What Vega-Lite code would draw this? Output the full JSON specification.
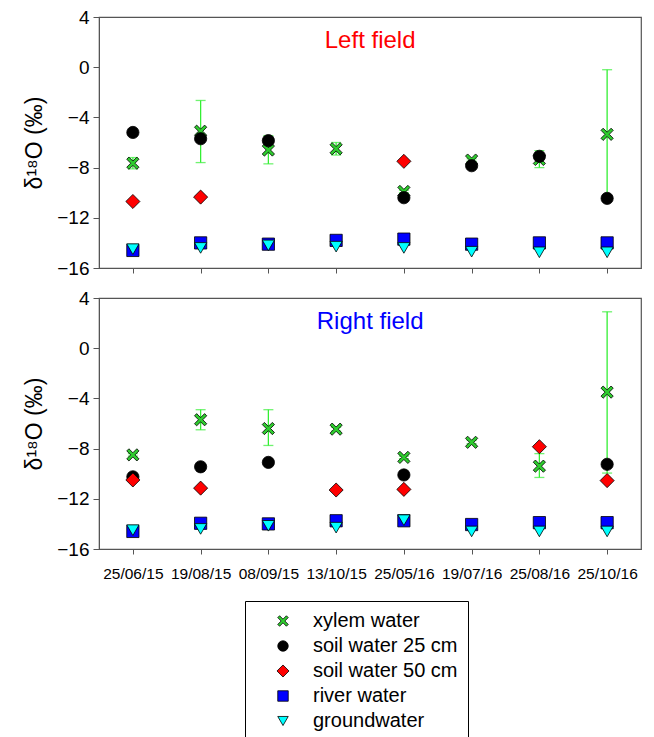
{
  "$schema": "https://vega.github.io/schema/vega-lite/v6.json",
  "padding": {"left": 23, "top": 7, "right": 5, "bottom": 5},
  "background": "white",
  "config": {
    "font": "Liberation Sans",
    "view": {"stroke": "#555", "strokeWidth": 1.2},
    "axis": {"domainColor": "#555", "tickColor": "#555", "labelColor": "black", "titleColor": "black", "grid": false, "labelFont": "Liberation Sans", "titleFont": "Liberation Sans", "titleFontWeight": "normal"}
  },
  "datasets": {
    "pts": [
      {"field": "Left field", "date": "25/06/15", "series": "xylem water", "value": -7.65, "lo": -8.1, "hi": -7.2},
      {"field": "Left field", "date": "19/08/15", "series": "xylem water", "value": -5.1, "lo": -7.6, "hi": -2.65},
      {"field": "Left field", "date": "08/09/15", "series": "xylem water", "value": -6.6, "lo": -7.7, "hi": -5.45},
      {"field": "Left field", "date": "13/10/15", "series": "xylem water", "value": -6.5, "lo": -7.0, "hi": -6.0},
      {"field": "Left field", "date": "25/05/16", "series": "xylem water", "value": -9.9, "lo": -10.0, "hi": -9.8},
      {"field": "Left field", "date": "19/07/16", "series": "xylem water", "value": -7.4, "lo": -7.5, "hi": -7.3},
      {"field": "Left field", "date": "25/08/16", "series": "xylem water", "value": -7.35, "lo": -8.0, "hi": -6.65},
      {"field": "Left field", "date": "25/10/16", "series": "xylem water", "value": -5.35, "lo": -10.5, "hi": -0.2},
      {"field": "Left field", "date": "25/06/15", "series": "soil water 25 cm", "value": -5.2},
      {"field": "Left field", "date": "19/08/15", "series": "soil water 25 cm", "value": -5.7},
      {"field": "Left field", "date": "08/09/15", "series": "soil water 25 cm", "value": -5.85},
      {"field": "Left field", "date": "25/05/16", "series": "soil water 25 cm", "value": -10.4},
      {"field": "Left field", "date": "19/07/16", "series": "soil water 25 cm", "value": -7.85},
      {"field": "Left field", "date": "25/08/16", "series": "soil water 25 cm", "value": -7.1},
      {"field": "Left field", "date": "25/10/16", "series": "soil water 25 cm", "value": -10.45},
      {"field": "Left field", "date": "25/06/15", "series": "soil water 50 cm", "value": -10.7},
      {"field": "Left field", "date": "19/08/15", "series": "soil water 50 cm", "value": -10.35},
      {"field": "Left field", "date": "25/05/16", "series": "soil water 50 cm", "value": -7.5},
      {"field": "Left field", "date": "25/06/15", "series": "river water", "value": -14.6},
      {"field": "Left field", "date": "19/08/15", "series": "river water", "value": -14.0},
      {"field": "Left field", "date": "08/09/15", "series": "river water", "value": -14.1},
      {"field": "Left field", "date": "13/10/15", "series": "river water", "value": -13.8},
      {"field": "Left field", "date": "25/05/16", "series": "river water", "value": -13.7},
      {"field": "Left field", "date": "19/07/16", "series": "river water", "value": -14.1},
      {"field": "Left field", "date": "25/08/16", "series": "river water", "value": -14.0},
      {"field": "Left field", "date": "25/10/16", "series": "river water", "value": -14.0},
      {"field": "Left field", "date": "25/06/15", "series": "groundwater", "value": -14.5},
      {"field": "Left field", "date": "19/08/15", "series": "groundwater", "value": -14.4},
      {"field": "Left field", "date": "08/09/15", "series": "groundwater", "value": -14.2},
      {"field": "Left field", "date": "13/10/15", "series": "groundwater", "value": -14.3},
      {"field": "Left field", "date": "25/05/16", "series": "groundwater", "value": -14.4},
      {"field": "Left field", "date": "19/07/16", "series": "groundwater", "value": -14.7},
      {"field": "Left field", "date": "25/08/16", "series": "groundwater", "value": -14.75},
      {"field": "Left field", "date": "25/10/16", "series": "groundwater", "value": -14.75},
      {"field": "Right field", "date": "25/06/15", "series": "xylem water", "value": -8.5, "lo": -8.6, "hi": -8.4},
      {"field": "Right field", "date": "19/08/15", "series": "xylem water", "value": -5.7, "lo": -6.5, "hi": -4.9},
      {"field": "Right field", "date": "08/09/15", "series": "xylem water", "value": -6.4, "lo": -7.75, "hi": -4.9},
      {"field": "Right field", "date": "13/10/15", "series": "xylem water", "value": -6.45, "lo": -6.6, "hi": -6.3},
      {"field": "Right field", "date": "25/05/16", "series": "xylem water", "value": -8.7, "lo": -8.8, "hi": -8.6},
      {"field": "Right field", "date": "19/07/16", "series": "xylem water", "value": -7.5, "lo": -7.6, "hi": -7.35},
      {"field": "Right field", "date": "25/08/16", "series": "xylem water", "value": -9.4, "lo": -10.3, "hi": -8.4},
      {"field": "Right field", "date": "25/10/16", "series": "xylem water", "value": -3.5, "lo": -9.95, "hi": 2.9},
      {"field": "Right field", "date": "25/06/15", "series": "soil water 25 cm", "value": -10.25},
      {"field": "Right field", "date": "19/08/15", "series": "soil water 25 cm", "value": -9.45},
      {"field": "Right field", "date": "08/09/15", "series": "soil water 25 cm", "value": -9.1},
      {"field": "Right field", "date": "25/05/16", "series": "soil water 25 cm", "value": -10.1},
      {"field": "Right field", "date": "25/10/16", "series": "soil water 25 cm", "value": -9.25},
      {"field": "Right field", "date": "25/06/15", "series": "soil water 50 cm", "value": -10.5},
      {"field": "Right field", "date": "19/08/15", "series": "soil water 50 cm", "value": -11.15},
      {"field": "Right field", "date": "13/10/15", "series": "soil water 50 cm", "value": -11.3},
      {"field": "Right field", "date": "25/05/16", "series": "soil water 50 cm", "value": -11.25},
      {"field": "Right field", "date": "25/08/16", "series": "soil water 50 cm", "value": -7.85},
      {"field": "Right field", "date": "25/10/16", "series": "soil water 50 cm", "value": -10.55},
      {"field": "Right field", "date": "25/06/15", "series": "river water", "value": -14.6},
      {"field": "Right field", "date": "19/08/15", "series": "river water", "value": -13.95},
      {"field": "Right field", "date": "08/09/15", "series": "river water", "value": -14.0},
      {"field": "Right field", "date": "13/10/15", "series": "river water", "value": -13.75},
      {"field": "Right field", "date": "25/05/16", "series": "river water", "value": -13.75},
      {"field": "Right field", "date": "19/07/16", "series": "river water", "value": -14.05},
      {"field": "Right field", "date": "25/08/16", "series": "river water", "value": -13.9},
      {"field": "Right field", "date": "25/10/16", "series": "river water", "value": -13.9},
      {"field": "Right field", "date": "25/06/15", "series": "groundwater", "value": -14.5},
      {"field": "Right field", "date": "19/08/15", "series": "groundwater", "value": -14.4},
      {"field": "Right field", "date": "08/09/15", "series": "groundwater", "value": -14.15},
      {"field": "Right field", "date": "13/10/15", "series": "groundwater", "value": -14.3},
      {"field": "Right field", "date": "25/05/16", "series": "groundwater", "value": -13.7},
      {"field": "Right field", "date": "19/07/16", "series": "groundwater", "value": -14.6},
      {"field": "Right field", "date": "25/08/16", "series": "groundwater", "value": -14.6},
      {"field": "Right field", "date": "25/10/16", "series": "groundwater", "value": -14.6}
    ]
  },
  "spacing": 9,
  "vconcat": [
    {
      "width": 542,
      "height": 251,
      "data": {"name": "pts"},
      "transform": [{"filter": "datum.field === 'Left field'"}],
      "encoding": {
        "x": {"field": "date", "type": "nominal", "sort": null,
              "scale": {"type": "point", "padding": 0.5, "domain": ["25/06/15", "19/08/15", "08/09/15", "13/10/15", "25/05/16", "19/07/16", "25/08/16", "25/10/16"]},
              "axis": {"labels": false, "title": null, "tickSize": 5, "domain": true}}
      },
      "layer": [
        {
          "transform": [{"filter": "isValid(datum.lo)"}],
          "mark": {"type": "errorbar", "color": "#33ee33", "thickness": 1.3, "ticks": {"size": 10, "color": "#33ee33"}},
          "encoding": {
            "y": {"field": "lo", "type": "quantitative", "scale": {"domain": [-16, 4], "nice": false, "zero": false}, "title": "δ¹⁸O (‰)"},
            "y2": {"field": "hi"}
          }
        },
        {
          "mark": {"type": "point", "filled": true, "size": 150, "stroke": "black", "strokeWidth": 0.8, "opacity": 1},
          "encoding": {
            "y": {"field": "value", "type": "quantitative", "scale": {"domain": [-16, 4], "nice": false, "zero": false},
                  "axis": {"values": [-16, -12, -8, -4, 0, 4], "labelFontSize": 19, "tickSize": 6, "labelPadding": 4, "titleFontSize": 23, "titlePadding": 10, "title": "δ¹⁸O (‰)"}},
            "color": {"field": "series", "type": "nominal", "title": null,
                      "scale": {"domain": ["xylem water", "soil water 25 cm", "soil water 50 cm", "river water", "groundwater"], "range": ["#2ecc2e", "#000000", "#ff0000", "#0000ff", "#00ffff"]}},
            "shape": {"field": "series", "type": "nominal", "title": null,
                      "scale": {"domain": ["xylem water", "soil water 25 cm", "soil water 50 cm", "river water", "groundwater"], "range": ["M-1,-0.65L-0.65,-1L0,-0.35L0.65,-1L1,-0.65L0.35,0L1,0.65L0.65,1L0,0.35L-0.65,1L-1,0.65L-0.35,0Z", "circle", "M0,-1.15L1.15,0L0,1.15L-1.15,0Z", "square", "triangle-down"]}}
          }
        },
        {
          "data": {"values": [{"label": "Left field"}]},
          "mark": {"type": "text", "color": "#ff0000", "fontSize": 24, "dx": 34, "align": "center", "baseline": "alphabetic"},
          "encoding": {
            "x": {"datum": "13/10/15"},
            "y": {"datum": 1.55},
            "text": {"field": "label"}
          }
        }
      ]
    },
    {
      "width": 542,
      "height": 251,
      "data": {"name": "pts"},
      "transform": [{"filter": "datum.field === 'Right field'"}],
      "encoding": {
        "x": {"field": "date", "type": "nominal", "sort": null,
              "scale": {"type": "point", "padding": 0.5, "domain": ["25/06/15", "19/08/15", "08/09/15", "13/10/15", "25/05/16", "19/07/16", "25/08/16", "25/10/16"]},
              "axis": {"labelAngle": 0, "labelFontSize": 15.5, "title": null, "tickSize": 5, "labelPadding": 12}}
      },
      "layer": [
        {
          "transform": [{"filter": "isValid(datum.lo)"}],
          "mark": {"type": "errorbar", "color": "#33ee33", "thickness": 1.3, "ticks": {"size": 10, "color": "#33ee33"}},
          "encoding": {
            "y": {"field": "lo", "type": "quantitative", "scale": {"domain": [-16, 4], "nice": false, "zero": false}, "title": "δ¹⁸O (‰)"},
            "y2": {"field": "hi"}
          }
        },
        {
          "mark": {"type": "point", "filled": true, "size": 150, "stroke": "black", "strokeWidth": 0.8, "opacity": 1},
          "encoding": {
            "y": {"field": "value", "type": "quantitative", "scale": {"domain": [-16, 4], "nice": false, "zero": false},
                  "axis": {"values": [-16, -12, -8, -4, 0, 4], "labelFontSize": 19, "tickSize": 6, "labelPadding": 4, "titleFontSize": 23, "titlePadding": 10, "title": "δ¹⁸O (‰)"}},
            "color": {"field": "series", "type": "nominal", "title": null,
                      "scale": {"domain": ["xylem water", "soil water 25 cm", "soil water 50 cm", "river water", "groundwater"], "range": ["#2ecc2e", "#000000", "#ff0000", "#0000ff", "#00ffff"]},
                      "legend": {"orient": "none", "legendX": 146, "legendY": 584, "direction": "vertical", "labelFontSize": 20, "symbolSize": 110, "rowPadding": 5, "padding": 10, "symbolOffset": 18, "labelOffset": 20, "strokeColor": "black", "fillColor": "white", "symbolStrokeColor": "black", "symbolStrokeWidth": 0.8}},
            "shape": {"field": "series", "type": "nominal", "title": null,
                      "scale": {"domain": ["xylem water", "soil water 25 cm", "soil water 50 cm", "river water", "groundwater"], "range": ["M-1,-0.65L-0.65,-1L0,-0.35L0.65,-1L1,-0.65L0.35,0L1,0.65L0.65,1L0,0.35L-0.65,1L-1,0.65L-0.35,0Z", "circle", "M0,-1.15L1.15,0L0,1.15L-1.15,0Z", "square", "triangle-down"]}}
          }
        },
        {
          "data": {"values": [{"label": "Right field"}]},
          "mark": {"type": "text", "color": "#0000ff", "fontSize": 24, "dx": 34, "align": "center", "baseline": "alphabetic"},
          "encoding": {
            "x": {"datum": "13/10/15"},
            "y": {"datum": 1.55},
            "text": {"field": "label"}
          }
        }
      ]
    }
  ]
}
